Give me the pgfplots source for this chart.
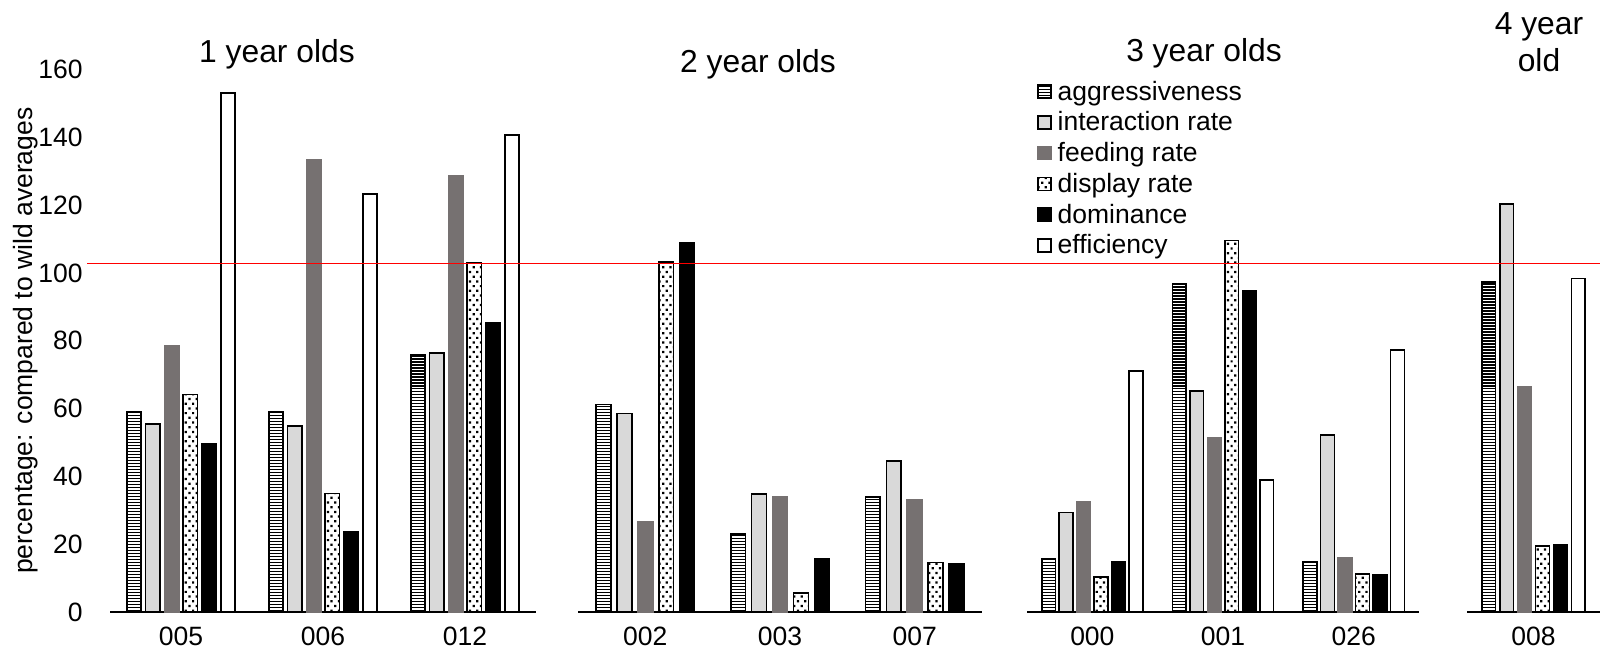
\documentclass[border=0pt]{standalone}
\usepackage{fontspec}
\setmainfont{Liberation Sans}
\usepackage{pgfplots}
\pgfplotsset{compat=1.18}
\usetikzlibrary{patterns}

\pgfdeclarepatternformonly{hlinesdense}{\pgfqpoint{-1pt}{0pt}}{\pgfqpoint{4pt}{1.13pt}}{\pgfqpoint{3pt}{1.13pt}}{%
  \pgfpathrectangle{\pgfqpoint{-1pt}{0pt}}{\pgfqpoint{5pt}{0.56pt}}\pgfusepath{fill}}
\pgfdeclarepatternformonly{sdots}{\pgfqpoint{-0.5pt}{-0.5pt}}{\pgfqpoint{2.1pt}{2.6pt}}{\pgfqpoint{2.75pt}{3.55pt}}{%
  \pgfpathrectangle{\pgfqpoint{-0.42pt}{-0.42pt}}{\pgfqpoint{0.84pt}{0.84pt}}%
  \pgfpathrectangle{\pgfqpoint{0.955pt}{1.355pt}}{\pgfqpoint{0.84pt}{0.84pt}}\pgfusepath{fill}}

\definecolor{lgray}{HTML}{D9D9D9}
\definecolor{dgray}{HTML}{767171}

\pgfplotsset{
  panel/.style={
    scale only axis, anchor=south west, height=204.75pt,
    ymin=0, ymax=160,
    axis x line*=bottom, axis y line*=left,
    y axis line style={draw=none},
    x axis line style={line width=0.6pt, -},
    major tick length=0pt,
    tick style={draw=none},
    enlarge x limits=false,
    tick label style={font=\fontsize{10}{12}\selectfont},
    xticklabel style={anchor=north, inner sep=0pt, yshift=-5.3pt},
    /pgf/number format/assume math mode=true,
    clip=false,
  },
  sqlegend/.style={legend image code/.code={\draw[##1, line width=0.6pt] (0pt,-2.0pt) rectangle (4.9pt,2.9pt);}},
  sA/.style={draw=black, line width=0.6pt, pattern=hlinesdense, pattern color=black, sqlegend},
  sB/.style={draw=black, line width=0.6pt, fill=lgray, sqlegend},
  sC/.style={draw=dgray, line width=0.6pt, fill=dgray, sqlegend},
  sD/.style={draw=black, line width=0.6pt, pattern=sdots, pattern color=black, sqlegend},
  sE/.style={draw=black, line width=0.6pt, fill=black, sqlegend},
  sF/.style={draw=black, line width=0.6pt, fill=white, sqlegend},
}

\begin{document}
\begin{tikzpicture}
% ---------- Panel 1: 1 year olds ----------
\begin{axis}[panel, at={(41.51pt,15.47pt)}, width=160.75pt,
  ybar=1.62pt, bar width=5.47pt,
  xmin=-0.5, xmax=2.5, xtick={0,1,2}, xticklabels={005,006,012},
  ytick={0,20,...,160},
  yticklabel style={anchor=east, inner sep=0pt, xshift=-10.1pt},
  ylabel={percentage: compared to wild averages},
  every axis y label/.style={at={(axis description cs:-0.182,0.5)}, rotate=90, anchor=base, font=\fontsize{10}{12}\selectfont},
]
\addplot[sA] coordinates {(0,59.1) (1,59.1) (2,75.9)};
\addplot[sB] coordinates {(0,55.4) (1,54.8) (2,76.3)};
\addplot[sC] coordinates {(0,78.5) (1,133.4) (2,128.5)};
\addplot[sD] coordinates {(0,64.2) (1,35.0) (2,102.9)};
\addplot[sE] coordinates {(0,49.5) (1,23.6) (2,85.3)};
\addplot[sF] coordinates {(0,153.1) (1,123.2) (2,140.6)};
\end{axis}

% ---------- Panel 2: 2 year olds ----------
\begin{axis}[panel, at={(218.11pt,15.47pt)}, width=152.45pt,
  ybar=2.31pt, bar width=5.58pt,
  xmin=-0.5, xmax=2.5, xtick={0,1,2}, xticklabels={002,003,007},
  ytick=\empty,
]
\addplot[sA] coordinates {(0,61.2) (1,23.0) (2,34.0)};
\addplot[sB] coordinates {(0,58.6) (1,34.8) (2,44.6)};
\addplot[sC] coordinates {(0,26.5) (1,34.0) (2,33.2)};
\addplot[sD] coordinates {(0,103.2) (1,5.6) (2,14.6)};
\addplot[sE] coordinates {(0,108.9) (1,15.8) (2,14.2)};
\end{axis}

% ---------- Panel 3: 3 year olds ----------
\begin{axis}[panel, at={(387.55pt,15.47pt)}, width=147.92pt,
  ybar=1.4pt, bar width=5.2pt,
  xmin=-0.5, xmax=2.5, xtick={0,1,2}, xticklabels={000,001,026},
  ytick=\empty,
  legend cell align=left,
  legend style={at={(0.0255,0.9853)}, anchor=north west, draw=none, fill=none,
    inner sep=0pt, outer sep=0pt, row sep=0pt, column sep=2.3pt,
    nodes={inner sep=0pt, text height=8.6pt, text depth=3pt},
    font=\fontsize{10}{12}\selectfont},
]
\addplot[sA] coordinates {(0,15.8) (1,96.7) (2,14.9)};
\addplot[sB] coordinates {(0,29.4) (1,65.1) (2,52.2)};
\addplot[sC] coordinates {(0,32.4) (1,51.4) (2,16.0)};
\addplot[sD] coordinates {(0,10.3) (1,109.6) (2,11.2)};
\addplot[sE] coordinates {(0,14.7) (1,94.6) (2,11.1)};
\addplot[sF] coordinates {(0,71.1) (1,38.9) (2,77.3)};
\legend{aggressiveness, interaction rate, feeding rate, display rate, dominance, efficiency}
\end{axis}

% ---------- Panel 4: 4 year old ----------
\begin{axis}[panel, at={(553.58pt,15.47pt)}, width=50.19pt,
  ybar=1.55pt, bar width=5.2pt,
  xmin=-0.5, xmax=0.5, xtick={0}, xticklabels={008},
  ytick=\empty,
]
\addplot[sA] coordinates {(0,97.4)};
\addplot[sB] coordinates {(0,120.4)};
\addplot[sC] coordinates {(0,66.3)};
\addplot[sD] coordinates {(0,19.4)};
\addplot[sE] coordinates {(0,19.8)};
\addplot[sF] coordinates {(0,98.3)};
\end{axis}

% ---------- reference line ----------
\begin{axis}[scale only axis, anchor=south west, at={(32.83pt,15.47pt)},
  width=570.94pt, height=204.75pt, xmin=0, xmax=1, ymin=0, ymax=160, hide axis]
\addplot[draw=red, line width=0.5pt, mark=none] coordinates {(0,102.7) (1,102.7)};
\end{axis}

% ---------- titles ----------
\begin{scope}[every node/.style={font=\fontsize{12}{14}\selectfont, anchor=base, inner sep=0pt}]
\node at (104.53pt,223.02pt) {1 year olds};
\node at (286.04pt,219.06pt) {2 year olds};
\node at (454.34pt,223.25pt) {3 year olds};
\node at (580.75pt,233.43pt) {4 year};
\node at (580.75pt,219.36pt) {old};
\end{scope}

\pgfresetboundingbox
\useasboundingbox (0pt,0pt) rectangle (603.77pt,246.42pt);
\end{tikzpicture}
\end{document}
